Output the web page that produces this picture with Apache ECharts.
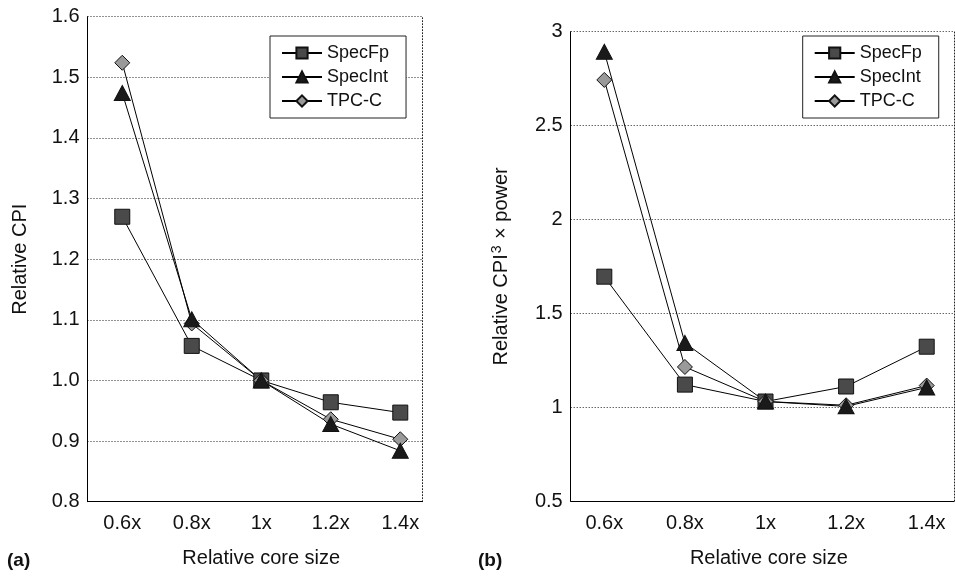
<!DOCTYPE html>
<html>
<head>
<meta charset="utf-8">
<script src="https://cdn.jsdelivr.net/npm/echarts@6/dist/echarts.min.js"></script>
<style>
  html, body { margin: 0; padding: 0; background: #fff; }
  #chart { width: 955px; height: 579px; }
</style>
</head>
<body>
<div id="chart"></div>
<script>
// Relative core size on the horizontal axis of both panels
const coreSizes = [0.6, 0.8, 1.0, 1.2, 1.4];
const coreSizeLabels = ['0.6x', '0.8x', '1x', '1.2x', '1.4x'];

// Panel (a): relative CPI
const cpiSpecFp = [1.270, 1.057, 1.000, 0.964, 0.947];
const cpiSpecInt = [1.474, 1.101, 1.000, 0.928, 0.884];
const cpiTpcC = [1.524, 1.094, 1.000, 0.936, 0.903];
const cpiTicks = [0.8, 0.9, 1.0, 1.1, 1.2, 1.3, 1.4, 1.5, 1.6];

// Panel (b): relative CPI^3 x power
const effSpecFp = [1.695, 1.120, 1.030, 1.110, 1.322];
const effSpecInt = [2.893, 1.342, 1.030, 1.004, 1.105];
const effTpcC = [2.743, 1.214, 1.030, 1.010, 1.115];
const effTicks = [0.5, 1, 1.5, 2, 2.5, 3];

const legendOrder = ['SpecFp', 'SpecInt', 'TPC-C'];

const FONT = 'Liberation Sans, Arial, Helvetica, sans-serif';
const TEXT = '#111';

const markers = {
  'SpecFp': { symbol: 'rect', size: 15, fill: '#4a4a4a' },
  'SpecInt': { symbol: 'triangle', size: [16, 15], fill: '#1a1a1a' },
  'TPC-C': { symbol: 'diamond', size: [15, 15], fill: '#9a9a9a' }
};

function lineSeries(name, values, g) {
  const m = markers[name];
  return {
    type: 'line',
    name: name,
    xAxisIndex: g,
    yAxisIndex: g * 2,
    data: coreSizes.map((x, i) => [x, values[i]]),
    symbol: m.symbol,
    symbolSize: m.size,
    showAllSymbol: true,
    itemStyle: { color: m.fill, borderColor: '#111', borderWidth: 1, opacity: 1 },
    lineStyle: { color: '#000', width: 1 },
    emphasis: { disabled: true },
    silent: true
  };
}

function xAxis(g, min, max) {
  return {
    type: 'value',
    gridIndex: g,
    min: min,
    max: max,
    splitLine: { show: false },
    axisTick: { show: false },
    axisLine: { show: true, onZero: false, lineStyle: { color: '#000', width: 1 } },
    axisLabel: {
      customValues: coreSizes,
      fontSize: 20, fontFamily: FONT, color: TEXT, margin: 12,
      formatter: v => {
        const i = coreSizes.findIndex(c => Math.abs(c - v) < 1e-6);
        return i >= 0 ? coreSizeLabels[i] : '';
      }
    },
    name: 'Relative core size',
    nameLocation: 'middle',
    nameGap: 47,
    nameMoveOverlap: false,
    nameTextStyle: { fontSize: 20, fontFamily: FONT, color: TEXT, padding: [0, 0, 0, 13] }
  };
}

function yAxisLeft(g, ticks, name, gap, fmt, rich) {
  return {
    type: 'value',
    gridIndex: g,
    position: 'left',
    min: ticks[0],
    max: ticks[ticks.length - 1],
    interval: ticks[1] - ticks[0],
    axisLine: { show: true, onZero: false, lineStyle: { color: '#000', width: 1 } },
    axisTick: { show: false },
    splitLine: { show: true, lineStyle: { color: '#222', width: 1, type: [1, 2] } },
    axisLabel: { fontSize: 20, fontFamily: FONT, color: TEXT, margin: 8, formatter: fmt },
    name: name,
    nameLocation: 'middle',
    nameRotate: 90,
    nameGap: gap,
    nameMoveOverlap: false,
    nameTextStyle: { fontSize: 20, fontFamily: FONT, color: TEXT, rich: rich }
  };
}

function yAxisRight(g, ticks) {
  return {
    type: 'value',
    gridIndex: g,
    position: 'right',
    min: ticks[0],
    max: ticks[ticks.length - 1],
    interval: ticks[1] - ticks[0],
    axisLine: { show: true, onZero: false, lineStyle: { color: '#222', width: 1, type: [1, 2] } },
    axisTick: { show: false },
    axisLabel: { show: false },
    splitLine: { show: false }
  };
}

function legend(left) {
  return {
    data: legendOrder,
    orient: 'vertical',
    left: left,
    top: 36,
    padding: [8, 17, 8, 11],
    itemWidth: 40,
    itemHeight: 14,
    itemGap: 6,
    backgroundColor: '#fff',
    borderColor: '#222',
    borderWidth: 1,
    selectedMode: false,
    textStyle: { fontSize: 18, fontFamily: FONT, color: TEXT }
  };
}

const chart = echarts.init(document.getElementById('chart'), null, { renderer: 'canvas' });

chart.setOption({
  animation: false,
  backgroundColor: '#fff',
  textStyle: { fontFamily: FONT },
  grid: [
    { left: 87.5, top: 16.7, width: 334.5, height: 485, containLabel: false, outerBoundsMode: 'none' },
    { left: 570.7, top: 31.7, width: 383.3, height: 469.3, containLabel: false, outerBoundsMode: 'none' }
  ],
  xAxis: [xAxis(0, 0.5, 1.4625), xAxis(1, 0.5166, 1.4677)],
  yAxis: [
    yAxisLeft(0, cpiTicks, 'Relative CPI', 57, v => v.toFixed(1)),
    yAxisRight(0, cpiTicks),
    yAxisLeft(1, effTicks, 'Relative CPI{sup|3} × power', 59, v => String(v), {
      sup: { fontSize: 14, lineHeight: 14, fontFamily: FONT, color: TEXT, padding: [0, 1, 9, 1] }
    }),
    yAxisRight(1, effTicks)
  ],
  legend: [legend(270), legend(802.7)],
  series: [
    lineSeries('SpecFp', cpiSpecFp, 0),
    lineSeries('TPC-C', cpiTpcC, 0),
    lineSeries('SpecInt', cpiSpecInt, 0),
    lineSeries('SpecFp', effSpecFp, 1),
    lineSeries('TPC-C', effTpcC, 1),
    lineSeries('SpecInt', effSpecInt, 1)
  ],
  graphic: [
    { type: 'text', left: 7, top: 551, style: { text: '(a)', font: 'bold 19px ' + FONT, fill: TEXT } },
    { type: 'text', left: 478, top: 551, style: { text: '(b)', font: 'bold 19px ' + FONT, fill: TEXT } }
  ]
});
</script>
</body>
</html>
